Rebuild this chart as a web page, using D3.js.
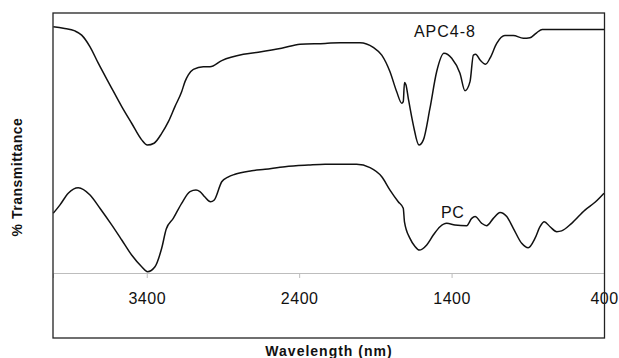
<!DOCTYPE html>
<html>
<head>
<meta charset="utf-8">
<script src="https://cdn.jsdelivr.net/npm/d3@7/dist/d3.min.js"></script>
<style>
  html, body { margin: 0; padding: 0; background: #fff; }
  svg { display: block; font-family: "Liberation Sans", Arial, sans-serif; }
</style>
</head>
<body>
<svg id="chart" width="619" height="358"></svg>
<script>
// ---- data ----
const apcWave = [4013, 3947, 3871, 3827, 3772, 3718, 3641, 3564, 3499, 3433, 3396, 3352, 3302, 3258, 3215, 3171, 3149, 3127, 3094, 3029, 2985, 2908, 2766, 2668, 2515, 2394, 2230, 2132, 2001, 1914, 1858, 1804, 1760, 1727, 1717, 1709, 1699, 1684, 1651, 1614, 1585, 1542, 1498, 1450, 1399, 1345, 1312, 1279, 1257, 1242, 1213, 1177, 1148, 1104, 1050, 995, 929, 886, 842, 805, 722, 400];
const apcT    = [94.7, 94.1, 93.1, 91.5, 87.0, 80.7, 72.3, 64.0, 57.6, 51.2, 49.2, 49.9, 53.7, 58.2, 64.0, 69.7, 73.6, 76.2, 78.3, 79.3, 79.3, 81.7, 84.1, 84.9, 86.4, 88.0, 88.3, 88.6, 88.6, 86.8, 83.8, 77.4, 69.7, 65.3, 65.9, 73.3, 72.3, 67.2, 56.9, 49.2, 51.2, 63.3, 77.4, 84.5, 82.6, 76.8, 70.1, 73.6, 83.8, 84.1, 81.9, 80.3, 82.6, 88.3, 91.3, 91.3, 90.3, 90.5, 92.4, 93.7, 93.7, 93.7];

const pcWave = [4013, 3969, 3915, 3849, 3772, 3707, 3630, 3564, 3499, 3433, 3395, 3346, 3302, 3272, 3226, 3171, 3116, 3077, 3051, 3018, 2982, 2957, 2908, 2867, 2821, 2711, 2624, 2493, 2340, 2230, 2023, 1935, 1858, 1804, 1750, 1717, 1709, 1673, 1640, 1612, 1563, 1520, 1476, 1432, 1378, 1301, 1268, 1246, 1202, 1170, 1126, 1082, 1038, 995, 940, 897, 853, 820, 792, 754, 710, 678, 612, 525, 459, 400];
const pcT    = [23.0, 26.2, 30.7, 32.8, 30.0, 24.9, 18.5, 12.7, 6.9, 2.4, 0.5, 2.4, 9.5, 16.9, 21.0, 26.8, 31.3, 31.9, 31.3, 29.2, 27.4, 28.1, 35.1, 36.9, 38.0, 39.3, 39.9, 40.9, 41.5, 41.8, 41.8, 40.5, 37.0, 31.9, 27.4, 24.9, 19.7, 13.3, 10.2, 8.8, 10.8, 14.6, 17.8, 19.1, 18.5, 18.2, 21.0, 21.7, 19.1, 18.2, 21.0, 23.3, 21.7, 17.2, 11.4, 9.7, 13.3, 17.8, 19.7, 17.8, 15.9, 16.2, 19.1, 24.2, 27.2, 30.7];

const xTicks = [3400, 2400, 1400, 400];
const seriesLabels = ["APC4-8", "PC"];
const labelPos = [[1647, 90.9], [1469, 21.0]]; // [wavelength, %T] of label start / baseline
const xTitle = "Wavelength (nm)";
const yTitle = "% Transmittance";

// ---- layout ----
const svg = d3.select("#chart");
const L = 53, R = 604.5, T = 13, B = 338, axisY = 273;

const x = d3.scaleLinear().domain([4015, 400]).range([L, 604]);
const y = d3.scaleLinear().domain([0, 100]).range([axisY, T]);

// x axis (gray line, ticks down)
const xAxis = d3.axisBottom(x).tickValues(xTicks).tickSize(5).tickPadding(15).tickFormat(d3.format("d"));
const gx = svg.append("g").attr("transform", `translate(0,${axisY})`).call(xAxis);
gx.select(".domain").attr("stroke", "#bdbdbd").attr("stroke-width", 1);
gx.selectAll(".tick line").attr("stroke", "#bdbdbd");
gx.selectAll(".tick text")
  .attr("fill", "#111")
  .attr("font-size", 16)
  .attr("letter-spacing", "0.5px")
  .attr("font-family", "'Liberation Sans', Arial, sans-serif");

// curves
const line = d3.line()
  .x(d => x(d[0]))
  .y(d => y(d[1]))
  .curve(d3.curveMonotoneX);

const apc = apcWave.map((w, i) => [w, apcT[i]]);
const pc = pcWave.map((w, i) => [w, pcT[i]]);

[apc, pc].forEach(data => {
  svg.append("path")
    .datum(data)
    .attr("fill", "none")
    .attr("stroke", "#111")
    .attr("stroke-width", 1.5)
    .attr("stroke-linejoin", "round")
    .attr("d", line);
});

// series labels
seriesLabels.forEach((t, i) => {
  svg.append("text")
    .attr("x", x(labelPos[i][0]))
    .attr("y", y(labelPos[i][1]))
    .attr("font-size", 16)
    .attr("letter-spacing", i === 0 ? "1px" : "0.5px")
    .attr("fill", "#111")
    .text(t);
});

// frame
svg.append("rect")
  .attr("x", L).attr("y", T)
  .attr("width", R - L).attr("height", B - T)
  .attr("fill", "none")
  .attr("stroke", "#222")
  .attr("stroke-width", 1.3);

// axis titles
svg.append("text")
  .attr("x", 329).attr("y", 355.5)
  .attr("text-anchor", "middle")
  .attr("font-size", 14)
  .attr("font-weight", "bold")
  .attr("letter-spacing", "1px")
  .attr("fill", "#111")
  .text(xTitle);

svg.append("text")
  .attr("transform", "translate(22,177) rotate(-90)")
  .attr("text-anchor", "middle")
  .attr("font-size", 14)
  .attr("font-weight", "bold")
  .attr("letter-spacing", "0.5px")
  .attr("fill", "#111")
  .text(yTitle);
</script>
</body>
</html>
